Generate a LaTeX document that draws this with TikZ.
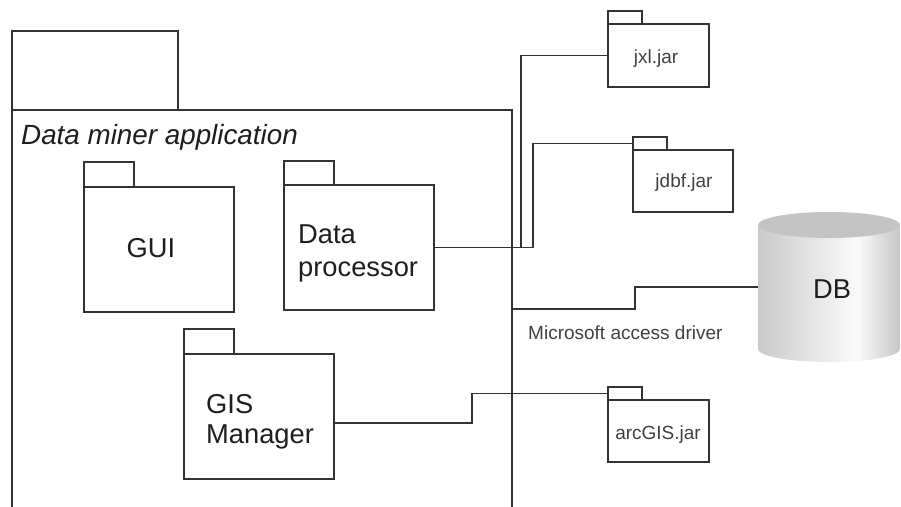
\documentclass[tikz,border=0pt]{standalone}
\usepackage{fontspec}
\setmainfont{Liberation Sans}
\usetikzlibrary{calc}
\definecolor{lineC}{HTML}{333333}
\definecolor{txtC}{HTML}{1E1E1E}
\definecolor{dbA}{HTML}{CACACA}
\definecolor{dbB}{HTML}{E2E2E2}
\definecolor{dbC}{HTML}{FAFAFA}
\definecolor{dbD}{HTML}{C6C6C6}
\definecolor{dbTop}{HTML}{C4C4C4}
\pgfdeclarehorizontalshading{dbshade}{100bp}{color(0bp)=(dbA); color(25bp)=(dbA); color(42bp)=(dbB); color(60bp)=(dbC); color(75bp)=(dbD); color(100bp)=(dbD)}
\tikzset{
  pkg/.style={draw=lineC, line width=1.2pt, rectangle, inner sep=0pt, outer sep=0pt, fill=white},
  conn/.style={draw=lineC, line width=1.2pt},
  bigtxt/.style={font=\fontsize{27.3pt}{30pt}\selectfont, text=txtC, inner sep=0pt},
  smalltxt/.style={font=\fontsize{19pt}{22pt}\selectfont, text=txtC!85!white, inner sep=0pt},
}
\begin{document}
\begin{tikzpicture}[x=1pt,y=-1pt]
\useasboundingbox[fill=white] (0,0) rectangle (901,506);

% main package
\node[pkg, minimum width=500pt, minimum height=402pt, anchor=north west] (main) at (12,110) {};
\node[pkg, minimum width=166pt, minimum height=79pt, anchor=south west] (maintab) at (main.north west) {};
\node[bigtxt, font=\fontsize{27.8pt}{30pt}\selectfont\itshape, anchor=base west] (mainT) at (21,144) {Data miner application};

% GUI
\node[pkg, minimum width=150pt, minimum height=125pt, anchor=north west] (gui) at (84,187) {};
\node[pkg, minimum width=50pt, minimum height=25pt, anchor=south west] (guitab) at (gui.north west) {};
\node[bigtxt, anchor=base] (guiT) at (151,257) {GUI};

% Data processor
\node[pkg, minimum width=150pt, minimum height=125pt, anchor=north west] (dp) at (284,185) {};
\node[pkg, minimum width=50pt, minimum height=24pt, anchor=south west] (dptab) at (dp.north west) {};
\node[bigtxt, anchor=base west] (dpT1) at (298,243) {Data};
\node[bigtxt, anchor=base west] (dpT2) at (298,276) {processor};

% GIS Manager
\node[pkg, minimum width=150pt, minimum height=125pt, anchor=north west] (gis) at (184,354) {};
\node[pkg, minimum width=50pt, minimum height=25pt, anchor=south west] (gistab) at (gis.north west) {};
\node[bigtxt, anchor=base west] (gisT1) at (206,413) {GIS};
\node[bigtxt, anchor=base west] (gisT2) at (206,443) {Manager};

% jxl.jar
\node[pkg, minimum width=101pt, minimum height=63pt, anchor=north west] (jxl) at (608,24) {};
\node[pkg, minimum width=34pt, minimum height=13pt, anchor=south west] (jxltab) at (jxl.north west) {};
\node[smalltxt, anchor=base] (jxlT) at (656,63) {jxl.jar};

% jdbf.jar
\node[pkg, minimum width=100pt, minimum height=62pt, anchor=north west] (jdbf) at (633,150) {};
\node[pkg, minimum width=34pt, minimum height=13pt, anchor=south west] (jdbftab) at (jdbf.north west) {};
\node[smalltxt, anchor=base] (jdbfT) at (684,187) {jdbf.jar};

% arcGIS.jar
\node[pkg, minimum width=101pt, minimum height=62pt, anchor=north west] (arc) at (608,400) {};
\node[pkg, minimum width=34pt, minimum height=13pt, anchor=south west] (arctab) at (arc.north west) {};
\node[smalltxt, anchor=base] (arcT) at (658,439) {arcGIS.jar};

% DB cylinder
\shade[shading=dbshade] (758,225) -- (758,349) arc[start angle=180, end angle=360, x radius=71pt, y radius=13pt] -- (900,225) -- cycle;
\fill[dbTop] (829,225) ellipse [x radius=71pt, y radius=13pt];
\node[bigtxt, anchor=base] (db) at (832,298) {DB};
\coordinate (dbw) at (758,287);

% connectors
\draw[conn] (dp.east) -- ++(87,0) |- (jxl.west);
\draw[conn] (dp.east) -- ++(99,0) |- (jdbftab.west);
\draw[conn] ([yshift=2pt]main.east) -- ++(123,0) |- (dbw);
\draw[conn] ([yshift=-6.5pt]gis.east) -- ++(138,0) |- (arctab.west);

\node[smalltxt, anchor=base west] (msT) at (528,339) {Microsoft access driver};
\end{tikzpicture}
\end{document}
